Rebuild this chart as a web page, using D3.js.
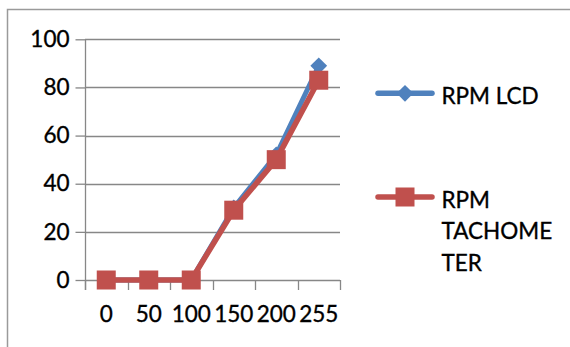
<!DOCTYPE html>
<html>
<head>
<meta charset="utf-8">
<script src="https://cdn.jsdelivr.net/npm/d3@7"></script>
<style>
  html, body { margin: 0; padding: 0; background: #fff; }
  svg { display: block; }
  text { font-family: Lato, "Open Sans", sans-serif; fill: #000; stroke: #000; stroke-width: 0.35px; }
</style>
</head>
<body>
<svg id="chart" width="570" height="347"></svg>
<script>
const categories = ["0", "50", "100", "150", "200", "255"];
const rpmLcd = [0, 0, 0, 30, 52, 89];
const rpmTachometer = [0, 0, 0, 29, 50, 83];
const yTicks = [0, 20, 40, 60, 80, 100];
const seriesNames = ["RPM LCD", "RPM TACHOMETER"];
const legendLines = [["RPM LCD"], ["RPM", "TACHOME", "TER"]];

const svg = d3.select("#chart");
const fontSize = 22.5;

// outer chart border (only top & left visible)
svg.append("rect")
  .attr("x", 7.5).attr("y", 9.5)
  .attr("width", 700).attr("height", 500)
  .attr("fill", "none").attr("stroke", "#9a9a9a").attr("stroke-width", 1.5);

const x = d3.scaleBand().domain(categories).range([85, 340]).padding(0);
const y = d3.scaleLinear().domain([0, 100]).range([280, 39.3]);

const gridColor = "#878787";

// gridlines
svg.append("g").selectAll("line").data(yTicks).join("line")
  .attr("x1", 85).attr("x2", 340)
  .attr("y1", d => Math.round(y(d)) + 0.5).attr("y2", d => Math.round(y(d)) + 0.5)
  .attr("stroke", gridColor).attr("stroke-width", 1.3);

// y axis
const yAxis = d3.axisLeft(y).tickValues(yTicks).tickSize(10).tickPadding(6).tickSizeOuter(0);
const gy = svg.append("g").attr("transform", "translate(85.5,0)").call(yAxis);
gy.select(".domain").remove();
gy.selectAll(".tick line").attr("stroke", gridColor).attr("stroke-width", 1.3);
gy.selectAll(".tick text").attr("font-size", fontSize).attr("font-family", "Lato");
svg.append("line")
  .attr("x1", 85.5).attr("x2", 85.5)
  .attr("y1", y(100)).attr("y2", 290)
  .attr("stroke", gridColor).attr("stroke-width", 1.3);

// x axis ticks at band boundaries
const boundaries = categories.map(c => x(c)).concat([x(categories[categories.length - 1]) + x.bandwidth()]);
svg.append("g").selectAll("line").data(boundaries).join("line")
  .attr("x1", d => Math.round(d) + 0.5).attr("x2", d => Math.round(d) + 0.5)
  .attr("y1", 280).attr("y2", 290)
  .attr("stroke", gridColor).attr("stroke-width", 1.3);

// x axis labels
const xAxis = d3.axisBottom(x).tickSize(0).tickPadding(0);
const gx = svg.append("g").attr("transform", "translate(0,280)").call(xAxis);
gx.select(".domain").remove();
gx.selectAll(".tick text").attr("font-size", fontSize).attr("font-family", "Lato")
  .attr("y", 41.7).attr("dy", 0);

const blue = "#4F81BD", red = "#C0504D";
const cx = d => x(d) + x.bandwidth() / 2;
const line = d3.line().x((d, i) => cx(categories[i])).y(d => y(d));

// blue series
svg.append("path").datum(rpmLcd).attr("d", line)
  .attr("fill", "none").attr("stroke", blue).attr("stroke-width", 5).attr("stroke-linejoin", "round");
const diamond = d3.symbol().type(d3.symbolDiamond2).size(180);
svg.append("g").selectAll("path").data(rpmLcd).join("path")
  .attr("d", diamond)
  .attr("transform", (d, i) => `translate(${cx(categories[i])},${y(d)})`)
  .attr("fill", blue);

// red series
svg.append("path").datum(rpmTachometer).attr("d", line)
  .attr("fill", "none").attr("stroke", red).attr("stroke-width", 5.5).attr("stroke-linejoin", "round");
const sq = 19;
svg.append("g").selectAll("rect").data(rpmTachometer).join("rect")
  .attr("x", (d, i) => cx(categories[i]) - sq / 2)
  .attr("y", d => y(d) - sq / 2)
  .attr("width", sq).attr("height", sq)
  .attr("fill", red);

// legend
const legendY = [93.3, 197];
const legendColors = [blue, red];
seriesNames.forEach((name, k) => {
  const g = svg.append("g");
  const ly = legendY[k];
  g.append("line").attr("x1", 378).attr("x2", 432).attr("y1", ly).attr("y2", ly)
    .attr("stroke", legendColors[k]).attr("stroke-width", 5.5).attr("stroke-linecap", "round");
  if (k === 0) {
    g.append("path").attr("d", diamond).attr("transform", `translate(405,${ly})`).attr("fill", blue);
  } else {
    g.append("rect").attr("x", 405 - sq / 2).attr("y", ly - sq / 2).attr("width", sq).attr("height", sq).attr("fill", red);
  }
  const t = g.append("text").attr("x", 441.5).attr("font-size", fontSize);
  legendLines[k].forEach((ln, j) => {
    t.append("tspan").attr("x", 441.5).attr("y", ly + 10.5 + j * 31.7).text(ln);
  });
});
</script>
</body>
</html>
